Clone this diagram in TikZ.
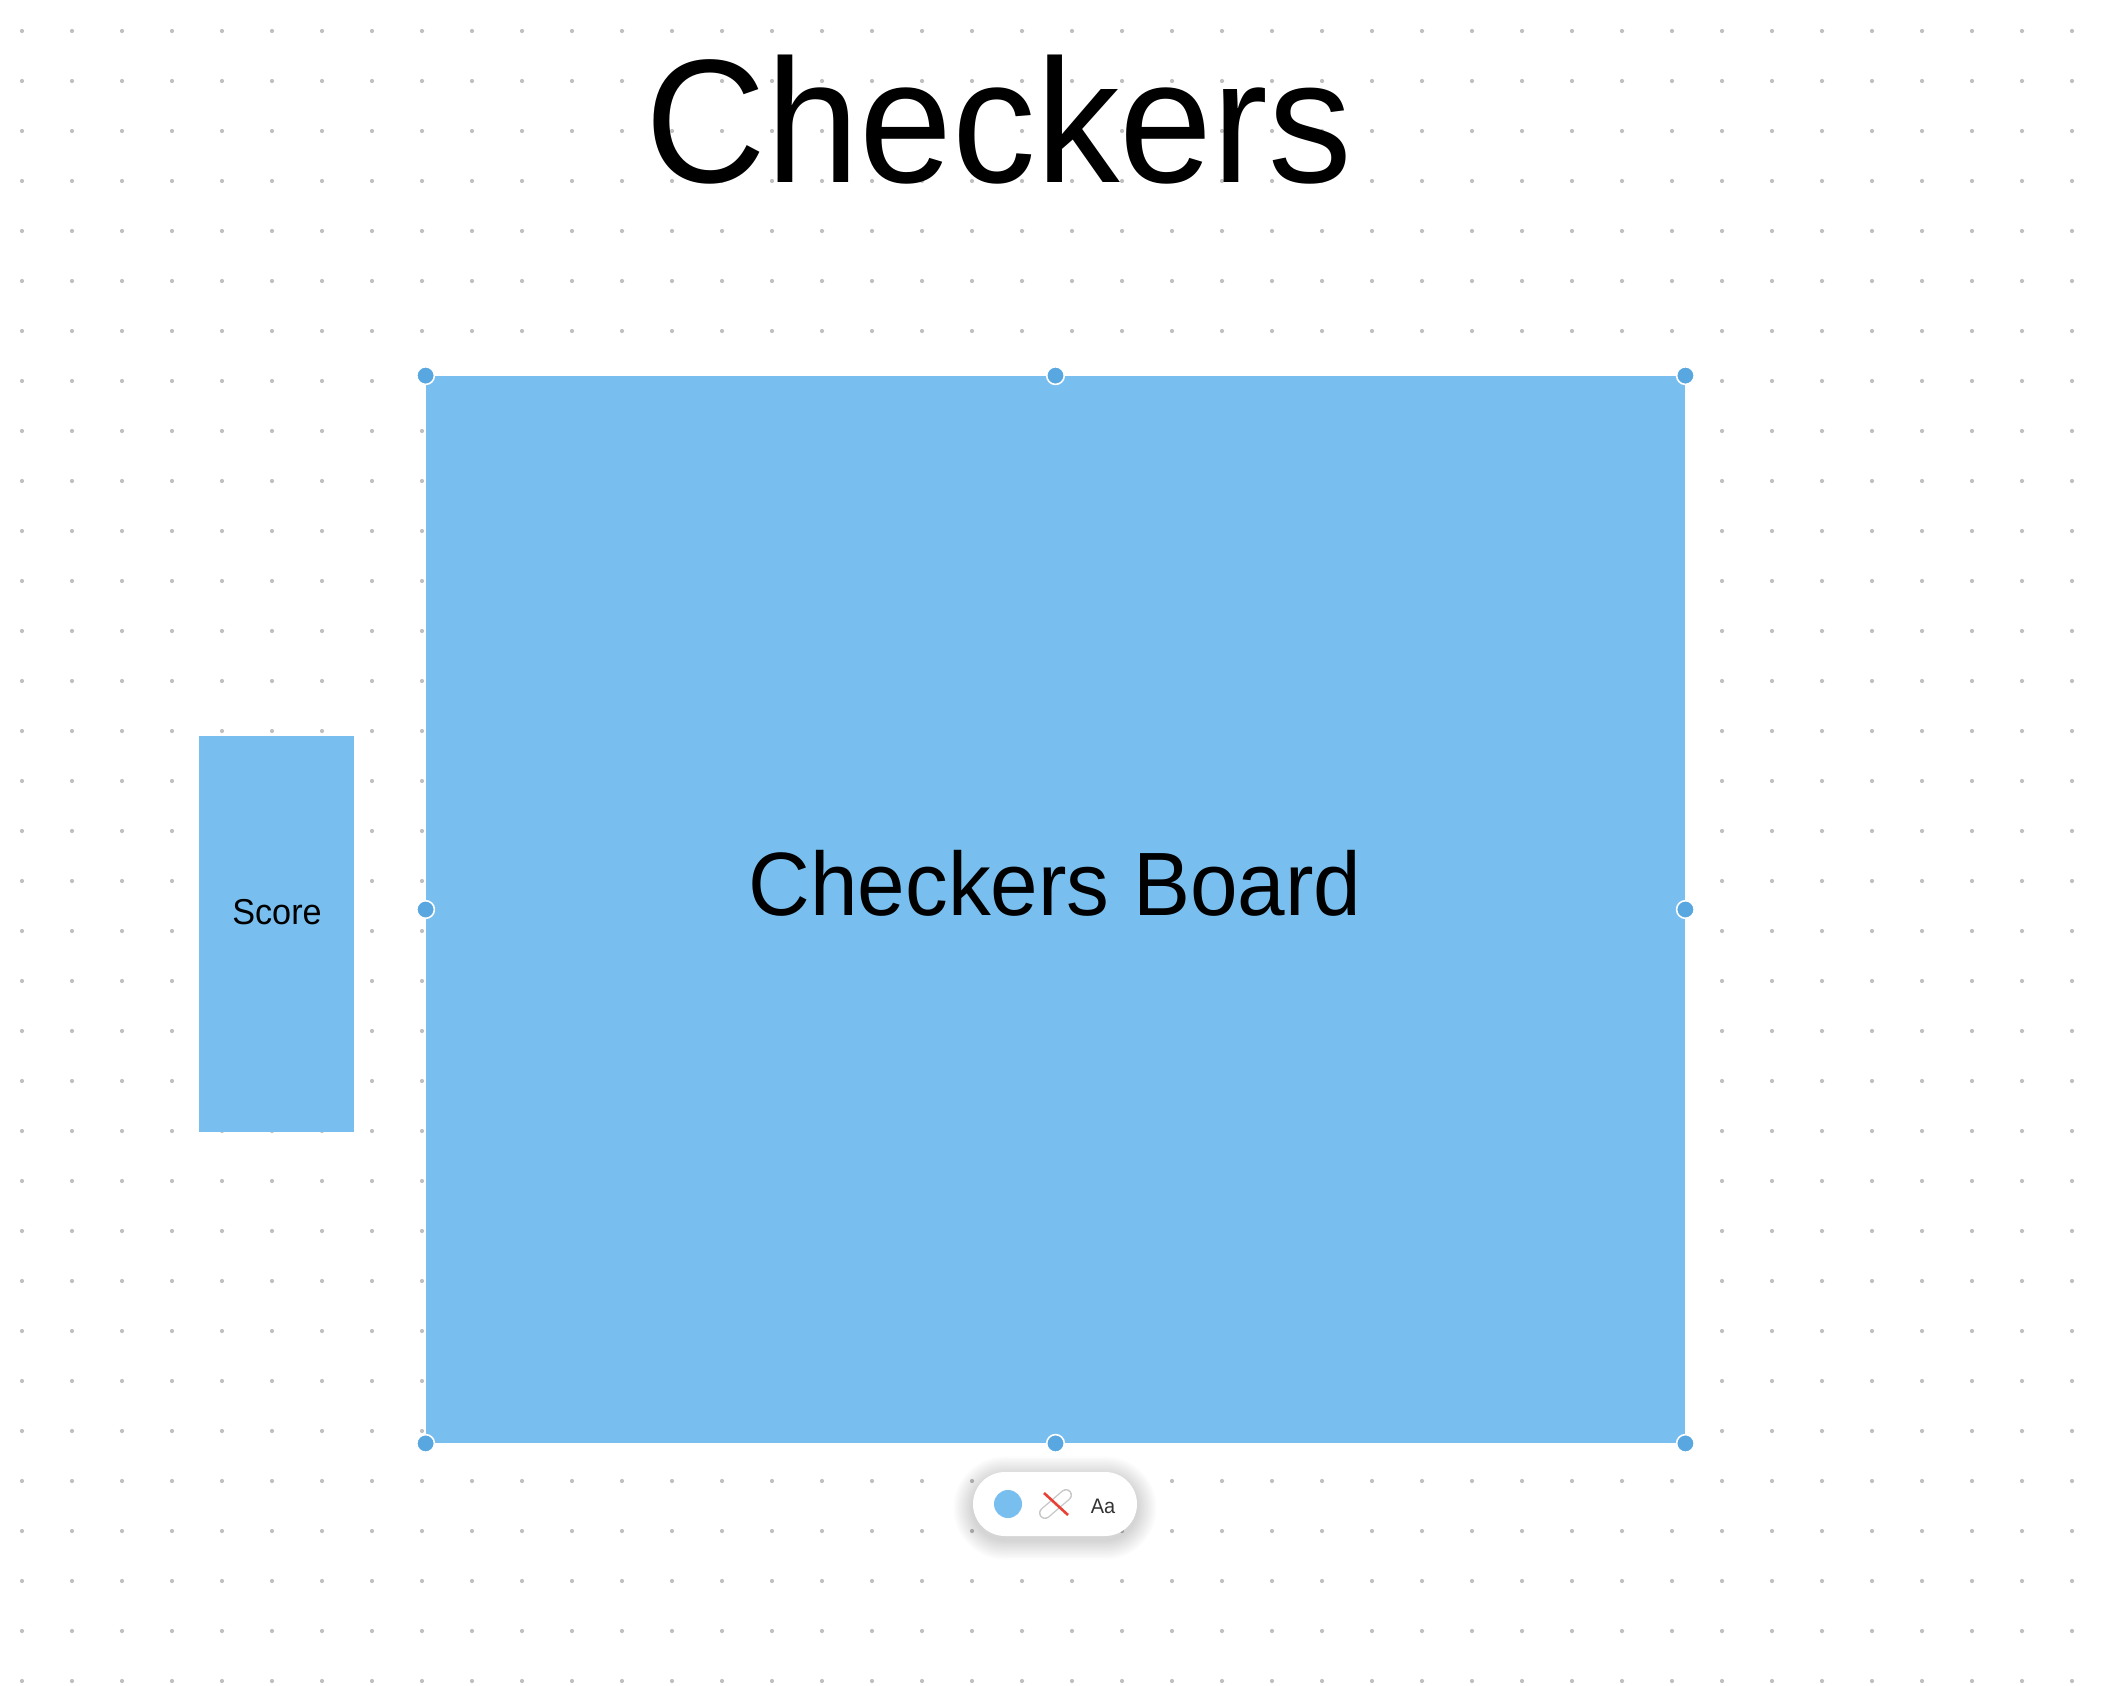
\documentclass[tikz,border=0pt]{standalone}
\usepackage{fontspec}
\setmainfont{Liberation Sans}[FakeStretch=0.95]
\definecolor{boxblue}{RGB}{120,191,240}
\definecolor{handleblue}{RGB}{88,167,224}
\definecolor{dotgray}{RGB}{192,192,192}
\definecolor{pentextgray}{RGB}{51,51,51}
\definecolor{penred}{RGB}{232,64,52}
\definecolor{pengray}{RGB}{200,200,200}
\tikzset{
  shapebox/.style={rectangle, fill=boxblue, inner sep=0pt, draw=none},
  selhandle/.style={circle, fill=handleblue, draw=white, line width=0.8pt, inner sep=0pt, minimum size=8.8pt},
  gridDot/.style={fill=dotgray},
  toolbar/.style={rectangle, rounded corners=16pt, fill=white, inner sep=0pt, minimum width=82pt, minimum height=32pt},
  labeltext/.style={inner sep=0pt, anchor=base, text=black}
}
\begin{document}
\begin{tikzpicture}[x=0.5pt,y=-0.5pt]
\useasboundingbox[fill=white] (0,0) rectangle (2116,1686);
% dot grid
\foreach \i in {0,...,41}{
  \foreach \j in {0,...,33}{
    \fill[gridDot] (22+50*\i,31+50*\j) circle[radius=1.05pt];
  }
}
% title
\node[labeltext, font=\fontsize{88}{100}\selectfont] (title) at (999,183) {Checkers};
% score box
\node[shapebox, minimum width=77.5pt, minimum height=198pt] (score) at (276.5,934) {};
\node[labeltext, font=\fontsize{18}{22}\selectfont] (scoretext) at (277,924) {Score};
% board
\node[shapebox, minimum width=629.5pt, minimum height=533.5pt] (board) at (1055.5,909.5) {};
\node[labeltext, font=\fontsize{45}{52}\selectfont] (boardtext) at (1055,915) {Checkers Board};
% selection handles
\foreach \a in {north west,north,north east,west,east,south west,south,south east}{
  \node[selhandle] (h-\a) at (board.\a) {};
}
% toolbar shadow
\foreach \k in {1,...,14}{
  \fill[black, opacity=0.012, rounded corners={16pt+0.7pt*\k}]
    (973-1.4*\k,1476-1.4*\k) rectangle (1137+1.4*\k,1540+1.4*\k);
}
\node[toolbar] (bar) at (1055,1504) {};
% toolbar content
\node[circle, fill=boxblue, inner sep=0pt, minimum size=14pt] (swatch) at (1008,1504) {};
\coordinate (penA) at (1066,1495);
\coordinate (penB) at (1045,1513);
\draw[pengray, line width=6pt, line cap=round] (penA) -- (penB);
\draw[white, line width=4.6pt, line cap=round] (penA) -- (penB);
\coordinate (redA) at (1044,1493);
\coordinate (redB) at (1068,1515);
\draw[penred, line width=1.3pt] (redA) -- (redB);
\node[labeltext, text=pentextgray, font=\fontsize{10.5}{12}\selectfont] (aa) at (1103,1513) {Aa};
\end{tikzpicture}
\end{document}
